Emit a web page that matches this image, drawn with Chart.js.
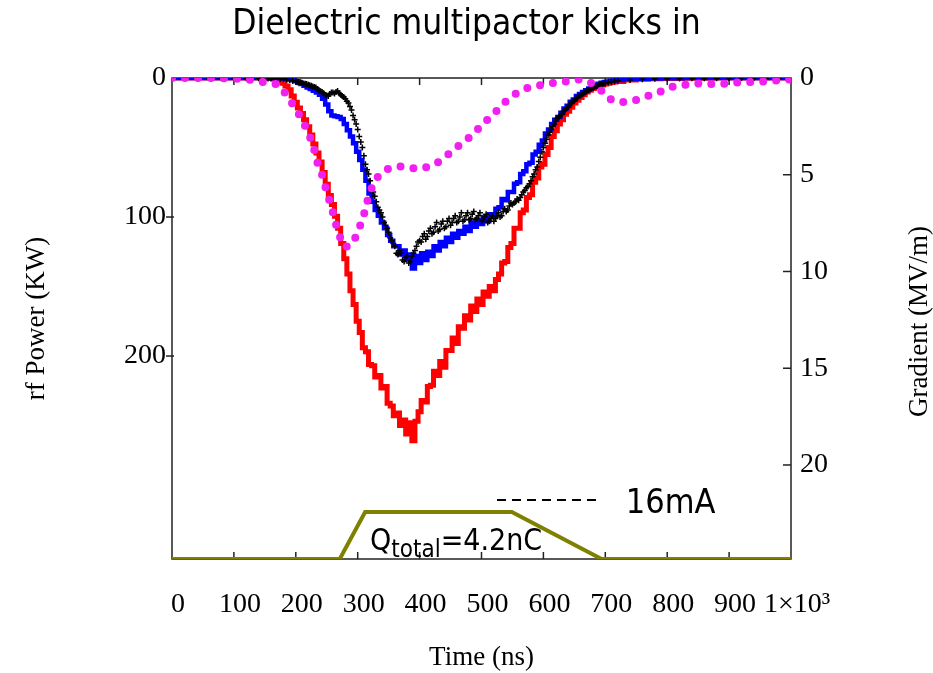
<!DOCTYPE html>
<html><head><meta charset="utf-8">
<script src="https://cdn.jsdelivr.net/npm/chart.js@4"></script>
<style>html,body{margin:0;padding:0;background:#fff;}</style>
</head><body>
<canvas id="c" width="933" height="673"></canvas>
<script>
const TITLE = 'Dielectric multipactor kicks in';
const SANS = "'DejaVu Sans Condensed', 'DejaVu Sans', sans-serif";
const SERIF = "'Liberation Serif', 'Times New Roman', serif";

// time grid (ns) for the measured rf power traces
const tGrid = [150,155,160,165,170,175,180,185,190,195,
  200,205,210,215,220,225,230,235,240,245,
  250,255,260,265,270,275,280,285,290,295,
  300,305,310,315,320,325,330,335,340,345,
  350,355,360,365,370,375,380,385,390,395,
  400,405,410,415,420,425,430,435,440,445,
  450,455,460,465,470,475,480,485,490,495,
  500,505,510,515,520,525,530,535,540,545,
  550,555,560,565,570,575,580,585,590,595,
  600,605,610,615,620,625,630,635,640,645,
  650,655,660,665,670,675,680,685,690,695,
  700,705,710,715,720];
const tLead = [0, 50, 100, 145];
const tTail = [740, 760, 780, 800, 850, 900, 950, 1000];

// red trace (KW)
const redP = [0,0.1,0.3,0.6,1.2,2.2,3.8,5.8,8.5,13,
  17.5,21.5,25.5,30,35,41,47.5,54,60.5,68,
  76.5,84.5,91,99.5,108,119,130,141,153,163,
  175,183,194,197,206,207,215,214,223,222,
  234,236,243,241,250,246,256,248,261,247,
  240,232,233,222,221,211,214,204,208,196,
  196,187,191,179,180,171,174,164,168,159,
  163,154,157,150,153,145,141,133,132,122,
  119,108,108,97,95,86,84,75,72,64,
  62,55,50,42,38,33,30,26,24,21,
  18,16,14,12,10,8.8,7.5,6.6,5.8,5,
  4.4,3.8,3.3,2.8,2.5];
const redLead = [0,0,0,0];
const redTail = [1.5,0.9,0.5,0.3,0.1,0,0,0];

// blue trace (KW)
const blueP = [0.1,0.1,0.15,0.2,0.2,0.25,0.3,0.5,1,1.6,
  2.3,3.2,4.3,5.5,6.8,8,9.2,10.5,12,15,
  19,24,27,27.5,28,29.5,33,37.5,42,47,
  53,59,66,74,83,89,95,99,104,108,
  113,117,121,121,127,124,130,127,137,128,
  133,126,131,125,128,121,124,118,121,115,
  118,112,115,110,112,107,110,104,107,102,
  105,100,103,98,100,94,93,87,88,82,
  82,76,75,69,67,62,61,55,53,48,
  45,40,37,33,30,28,25,22,20,17,
  15.5,13,11.5,10,8.8,7.5,6.3,5.2,4.2,3.4,
  2.8,2.5,2,1.8,1.5];
const blueLead = [0,0,0,0.05];
const blueTail = [0.8,0.5,0.3,0.2,0,0,0,0];

// black crosses (KW)
const blackP = [0.2,0.3,0.3,0.4,0.4,0.5,0.5,1,1.5,2,
  2.3,2.8,3.5,4.2,4.8,5.5,6.5,8,9.5,11,
  12.5,11.5,10.5,10,11,13,15,18,23,30,
  37,46,56,66,74,82,89,95,100,106,
  111,117,121,127,126,132,128,132,126,121,
  117,114,116,110,112,107,110,105,108,103,
  106,101,104,100,103,99,102,98,102,99,
  103,100,104,101,103,99,100,96,96,92,
  91,89,88,84,81,78,74,69,64,57,
  50,44,39,35,31,28,26,23,21,18,
  16,14,12.5,11,9.5,8.3,7,6,5,4.3,
  3.7,3.2,2.8,2.4,2];
const blackLeadT = [0,20,40,60,80,100,120,140];
const blackLeadP = [0,0,0.1,0,0.1,0,0.1,0.2];
const blackTailT = [740,760,780,800,820,840,860,880,900,920,940,960,980,1000];
const blackTailP = [1.4,0.9,0.6,0.4,0.3,0.2,0.1,0.1,0,0,0,0,0,0];
// second interleaved set of black crosses
const blackT2 = [202.5,207.5,212.5,217.5,222.5,227.5,232.5,237.5,242.5,247.5,
  252.5,257.5,262.5,267.5,272.5,277.5,282.5,287.5,292.5,297.5,
  302.5,307.5,312.5,317.5,322.5,327.5,332.5,337.5,342.5,347.5,
  352.5,357.5,362.5,367.5,372.5,377.5,382.5,387.5,392.5,397.5,
  402.5,407.5,412.5,417.5,422.5,427.5,432.5,437.5,442.5,447.5,
  452.5,457.5,462.5,467.5,472.5,477.5,482.5,487.5,492.5,497.5,
  502.5,507.5,512.5,517.5,522.5,527.5,532.5,537.5,542.5,547.5,
  552.5,557.5,562.5,567.5,572.5,577.5,582.5,587.5,592.5,597.5,
  602.5,607.5,612.5,617.5,622.5,627.5,632.5,637.5,642.5,647.5,
  652.5,657.5,662.5,667.5,672.5,677.5,682.5,687.5,692.5,697.5];
const blackP2 = [3.0,3.1,4.0,4.4,5.3,6.1,6.9,8.8,10.1,12.2,
  12.9,10.5,11.2,9.4,12.1,13.6,16.8,20.5,27,33,
  42,50,62,69,79,85,93,97,104,108,
  115,119,126,124,131,129,133,128,124,118,
  118,112,114,108,111,104,109,103,107,101,
  104,99,103,97,102,97,101,96,101,97,
  102,98,103,99,101,97,99,94,95,90,
  90,87,86,82,79,76,71,66,60,53,
  47,41,37,33,29,27,24,22,19.5,17,
  15,13,11.7,10.2,8.9,7.6,6.5,5.5,4.6,4];

// magenta dotted trace (MV/m)
const magT = [0,77,123,150,171,183,194,205,213,223,231,236,244,250,258,263,270,280,292,300,309,315,323,333,347,367,388,405,425,439,456,473,490,502,515,528,541,556,572,593,614,638,659,678,693,704,725,748,767,787,803,824,842,880,919,961,1000];
const magG = [0,0,0.07,0.22,0.33,0.79,1.31,1.88,2.34,3.06,3.84,4.51,5.13,5.91,6.69,7.36,8.13,8.75,8.54,7.97,7.2,6.42,5.65,5.08,4.72,4.56,4.67,4.67,4.46,4.15,3.68,3.27,2.81,2.34,2.03,1.57,1.15,0.79,0.53,0.38,0.27,0.17,0.07,0.27,0.64,1.05,1.26,1.15,0.95,0.74,0.48,0.38,0.27,0.33,0.22,0.17,0.07];

// beam current pulse (mA)
const pulseT = [0,271,312,549,694,1000];
const pulseI = [0,0,16,16,0,0];
// dashed legend stroke for 16mA
const legT = [525,688];
const legI = [20.1,20.1];

const powerTickLabels = [0,100,200];

function pts(t, v){ return t.map((x,i)=>({x:x, y:v[i]})); }

const redData = pts(tLead, redLead).concat(pts(tGrid, redP), pts(tTail, redTail));
const blueData = pts(tLead, blueLead).concat(pts(tGrid, blueP), pts(tTail, blueTail));
const blackData = pts(blackLeadT, blackLeadP).concat(pts(tGrid, blackP), pts(blackTailT, blackTailP));

const framePlugin = {
  id:'frame',
  beforeDatasetsDraw(chart){
    const {ctx, chartArea:a, scales} = chart;
    ctx.save();
    ctx.strokeStyle = '#222'; ctx.lineWidth = 1.5;
    ctx.strokeRect(a.left, a.top, a.right-a.left, a.bottom-a.top);
    const line=(x1,y1,x2,y2)=>{ctx.beginPath();ctx.moveTo(x1,y1);ctx.lineTo(x2,y2);ctx.stroke();};
    scales.x.ticks.forEach(t=>{
      const px = scales.x.getPixelForValue(t.value);
      if (px < a.left+2 || px > a.right-2) return;
      line(px, a.top, px, a.top+7); line(px, a.bottom, px, a.bottom-7);
    });
    scales.yP.ticks.forEach(t=>{
      if (!powerTickLabels.includes(t.value) || t.value===0) return;
      const py = scales.yP.getPixelForValue(t.value);
      line(a.left-6, py, a.left+2, py);
    });
    scales.yG.ticks.forEach(t=>{
      if (t.value===0) return;
      const py = scales.yG.getPixelForValue(t.value);
      line(a.right-8, py, a.right, py);
    });
    ctx.restore();
  },
  afterDraw(chart){
    const {ctx, chartArea:a, scales} = chart;
    ctx.save();
    ctx.fillStyle = '#000';
    ctx.translate(scales.yG.right-13, (a.top+a.bottom)/2+3);
    ctx.rotate(-Math.PI/2);
    ctx.font = '27px ' + SERIF;
    ctx.textAlign = 'center'; ctx.textBaseline = 'middle';
    ctx.fillText('Gradient (MV/m)', 0, 0);
    ctx.restore();
    const xs = scales.x, yi = scales.yI;
    ctx.save();
    ctx.fillStyle = '#000'; ctx.textAlign='left'; ctx.textBaseline='alphabetic';
    ctx.font = '34px ' + SANS;
    ctx.fillText('16mA', xs.getPixelForValue(733), yi.getPixelForValue(15.7));
    let x = xs.getPixelForValue(320);
    const yb = yi.getPixelForValue(3.1);
    ctx.font = '30px ' + SANS;
    ctx.fillText('Q', x, yb); x += ctx.measureText('Q').width;
    ctx.font = '24px ' + SANS;
    ctx.fillText('total', x, yb+7); x += ctx.measureText('total').width;
    ctx.font = '30px ' + SANS;
    ctx.fillText('=4.2nC', x, yb);
    ctx.restore();
  }
};

const crossStyle = {showLine:false, pointStyle:'cross', pointRadius:3, pointBorderWidth:1.5, pointBorderColor:'#000', pointBackgroundColor:'#000', borderColor:'#000'};

new Chart(document.getElementById('c'), {
  type:'line',
  data:{datasets:[
    {label:'magenta', data:pts(magT, magG), yAxisID:'yG', borderColor:'#f020f0', borderWidth:8, borderDash:[0,13], borderCapStyle:'round', pointRadius:0, tension:0, order:0},
    Object.assign({label:'black', data:blackData, yAxisID:'yP', order:1}, crossStyle),
    Object.assign({label:'black2', data:pts(blackT2, blackP2), yAxisID:'yP', order:1}, crossStyle),
    {label:'blue', data:blueData, yAxisID:'yP', borderColor:'#0000ff', borderWidth:4.5, stepped:'middle', pointRadius:0, order:2},
    {label:'red', data:redData, yAxisID:'yP', borderColor:'#ff0000', borderWidth:5, stepped:'middle', pointRadius:0, order:3},
    {label:'pulse', data:pts(pulseT, pulseI), yAxisID:'yI', borderColor:'#808000', borderWidth:4, pointRadius:0, tension:0, order:4},
    {label:'16mA', data:pts(legT, legI), yAxisID:'yI', borderColor:'#000', borderWidth:2, borderDash:[9,6], pointRadius:0, order:5}
  ]},
  options:{
    responsive:false, animation:false,
    layout:{padding:0},
    plugins:{
      legend:{display:false}, tooltip:{enabled:false},
      title:{display:true, text:TITLE, color:'#000', font:{family:SANS, size:35, weight:'normal', lineHeight:1.2}, padding:{top:4, bottom:32}}
    },
    scales:{
      x:{type:'linear', min:0, max:1000, position:'bottom',
        grid:{display:false, drawTicks:false}, border:{display:false},
        ticks:{stepSize:100, color:'#000', font:{family:SERIF, size:28}, padding:29, labelOffset:6, maxRotation:0, autoSkip:false,
          callback:v=> v===1000 ? '1×10³' : String(v)},
        title:{display:true, text:'Time (ns)', color:'#000', font:{family:SERIF, size:27, lineHeight:1}, padding:{top:0, bottom:2}},
        afterFit:s=>{s.height=114;}},
      yP:{type:'linear', position:'left', reverse:true, min:0, max:346,
        grid:{display:false, drawTicks:false}, border:{display:false},
        ticks:{stepSize:100, includeBounds:false, color:'#000', font:{family:SERIF, size:28}, padding:6,
          callback:v=> powerTickLabels.includes(v) ? String(v) : ''},
        title:{display:true, text:'rf Power (KW)', color:'#000', font:{family:SERIF, size:27, lineHeight:1.2}, padding:{top:21, bottom:0}},
        afterFit:s=>{s.width=172;}},
      yG:{type:'linear', position:'right', reverse:true, min:0, max:24.86,
        grid:{display:false, drawTicks:false}, border:{display:false},
        ticks:{stepSize:5, includeBounds:false, color:'#000', font:{family:SERIF, size:28}, padding:9},
        afterFit:s=>{s.width=142;}},
      yI:{type:'linear', display:false, min:0, max:164}
    }
  },
  plugins:[framePlugin]
});
</script>
</body></html>
